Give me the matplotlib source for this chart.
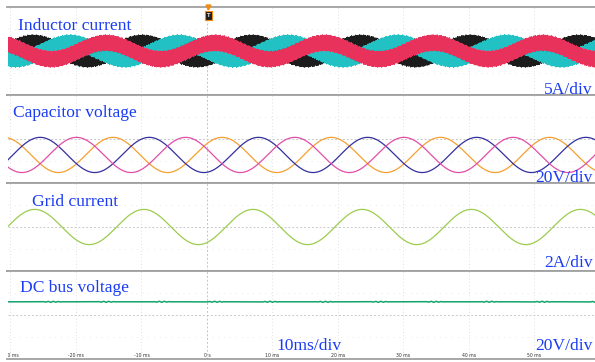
import numpy as np
import matplotlib
matplotlib.use('Agg')
import matplotlib.pyplot as plt
import matplotlib.transforms as mtransforms

W, H = 595, 362

# --- осциллограмма: параметры каналов ---
freq_hz = 60.0
time_window_ms = (-30.45, 59.25)
t_ms = np.arange(-31.0, 60.0, 0.002)

titles = ['Inductor current', 'Capacitor voltage', 'Grid current', 'DC bus voltage']
scale_labels = ['5A/div', '20V/div', '2A/div', '20V/div']
per_div = [5, 20, 2, 20]

# ток дросселя (три фазы) + пульсации ШИМ
ind_colors = ['#1c1c1c', '#22c2c4', '#e8325c']
ind_peak_ms = [-26.5, -20.9, -15.4]
ind_amp = 3.7
ind_ripple = 3.5
sw_khz = 10.0

# напряжение конденсатора (три фазы)
cap_colors = ['#f5a030', '#34309f', '#e24ea8']
cap_peak_ms = [-14.35, -8.8, -3.25]
cap_amp = 32.0
cap_offset = -29.0

# ток сети
grid_color = '#9ccc50'
grid_peak_ms = -26.3
grid_amp = 3.2

# напряжение звена постоянного тока
dc_color = '#12a46c'
dc_level = 24.0
dc_ripple = 1.1
dc_burst_ms = -23.7

tick_ms = [-30, -20, -10, 0, 10, 20, 30, 40, 50]
tick_labels = ['-30 ms', '-20 ms', '-10 ms', '0 s', '10 ms', '20 ms', '30 ms', '40 ms', '50 ms']

panel_px = [7, 95, 183, 271, 359]
left_px = 7.5


def wave(amp, peak_ms, offset=0.0, f=freq_hz):
    return offset + amp * np.cos(2 * np.pi * f * (t_ms - peak_ms) / 1000.0)


def tri(x):
    # треугольная несущая в диапазоне [-1, 1]
    return 2 * np.abs(2 * (x - np.floor(x + 0.5))) - 1


fig = plt.figure(figsize=(W / 100, H / 100), dpi=100)
axes = []
for i in range(4):
    top, bot = panel_px[i], panel_px[i + 1]
    ax = fig.add_axes([left_px / W, 1 - bot / H, 1 - left_px / W, (bot - top) / H])
    ax.set_xlim(*time_window_ms)
    ax.set_ylim(-4 * per_div[i], 4 * per_div[i])
    ax.set_xticks([])
    ax.set_yticks([])
    for s in ['left', 'right']:
        ax.spines[s].set_visible(False)
    for s in ['top', 'bottom']:
        ax.spines[s].set_color('#a0a0a0')
        ax.spines[s].set_linewidth(1.3)
    # сетка
    for tk in tick_ms:
        if tk == 0:
            ax.axvline(tk, color='#c4c4c4', lw=0.7, ls=(0, (2, 2)), zorder=0)
        else:
            ax.axvline(tk, color='#d6d6d6', lw=0.6, ls=(0, (1, 3)), zorder=0)
    ax.axhline(0, color='#c8c8c8', lw=0.7, ls=(0, (2, 2)), zorder=0)
    for k in (-2, 2):
        ax.axhline(k * per_div[i], color='#e2e2e2', lw=0.6, ls=(0, (1, 6)), zorder=0)
    axes.append(ax)

ax1, ax2, ax3, ax4 = axes

# ток дросселя
carrier = tri(sw_khz * t_ms)
wobble = 1 + 0.1 * np.sin(2 * np.pi * 2.37 * t_ms) * np.sin(2 * np.pi * 0.83 * t_ms)
for c, pk in zip(ind_colors, ind_peak_ms):
    y = wave(ind_amp, pk) + ind_ripple * wobble * carrier
    ax1.plot(t_ms, y, color=c, lw=0.5, zorder=2)

# напряжение конденсатора
for c, pk in zip(cap_colors, cap_peak_ms):
    ax2.plot(t_ms, wave(cap_amp, pk, cap_offset), color=c, lw=0.9, zorder=2)

# ток сети
ax3.plot(t_ms, wave(grid_amp, grid_peak_ms), color=grid_color, lw=0.9, zorder=2)

# звено постоянного тока: редкие всплески пульсаций на 120 Гц
burst = np.abs(wave(1.0, dc_burst_ms, f=freq_hz)) ** 10
dc_t = t_ms[::5]
dc = dc_level + dc_ripple * burst[::5] * tri(1.3 * dc_t)
ax4.plot(dc_t, dc, color=dc_color, lw=1.1, zorder=2)

# подписи времени внутри нижнего окна
for tk, lab in zip(tick_ms, tick_labels):
    ax4.text(tk, 0.035, lab, transform=mtransforms.blended_transform_factory(ax4.transData, ax4.transAxes),
             ha='center', va='center', fontsize=3.3, color='#333333', clip_on=True)

# маркер запуска
trans = mtransforms.blended_transform_factory(ax1.transData, ax1.transAxes)
ax1.plot([0.2], [1.0], marker='v', ms=3.5, color='#f08a10', mec='#f08a10', transform=trans, clip_on=False, zorder=5)
ax1.text(0.2, 0.9, 'T', transform=trans, ha='center', va='center', fontsize=3.8, color='#dddddd',
         fontweight='bold', zorder=6,
         bbox=dict(boxstyle='square,pad=0.35', fc='#1e1e1e', ec='#f08a10', lw=0.8))

# надписи
blue = '#1a3cf5'
font = dict(family=['Liberation Serif', 'DejaVu Serif'], fontsize=12.6, color=blue)


def px_text(x, y, s, ha='left'):
    fig.text(x / W, 1 - y / H, s, ha=ha, va='baseline', **font)


px_text(18.3, 30.5, titles[0])
px_text(13.3, 116.6, titles[1])
px_text(31.7, 205.5, titles[2])
px_text(20.0, 291.6, titles[3])
px_text(593, 93.5, scale_labels[0], ha='right')
px_text(593, 182.0, scale_labels[1], ha='right')
px_text(593, 267.0, scale_labels[2], ha='right')
px_text(593, 350.0, scale_labels[3], ha='right')
px_text(276, 350.0, '10ms/div')

fig.savefig('out.png', dpi=100)
